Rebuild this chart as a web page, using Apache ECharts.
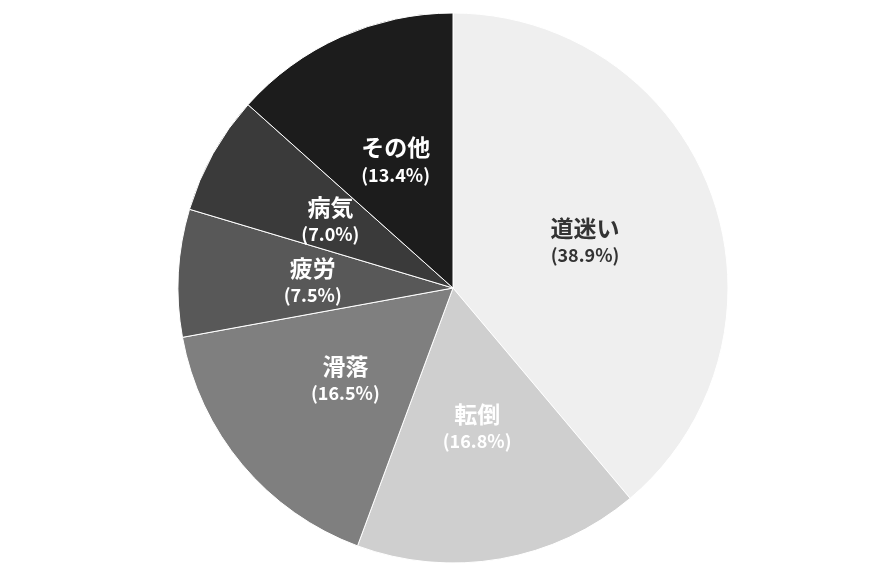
<!DOCTYPE html>
<html>
<head>
<meta charset="utf-8">
<script src="https://cdn.jsdelivr.net/npm/echarts@6/dist/echarts.min.js"></script>
<style>html,body{margin:0;padding:0;background:#fff}#chart{width:894px;height:564px}</style>
</head>
<body>
<div id="chart"></div>
<script>
// 遭難の原因
const categories = ['道迷い', '転倒', '滑落', '疲労', '病気', 'その他'];
const shares = [38.9, 16.8, 16.5, 7.5, 7.0, 13.4];
const sliceColors = ['#efefef', '#cfcfcf', '#7f7f7f', '#585858', '#3a3a3a', '#1c1c1c'];
const labelColors = ['#333333', '#ffffff', '#ffffff', '#ffffff', '#ffffff', '#ffffff'];

const chart = echarts.init(document.getElementById('chart'));

let data = [];
for (let i = 0; i < categories.length; i++) {
    data.push({
        name: categories[i],
        value: shares[i],
        itemStyle: { color: sliceColors[i] },
        label: { color: labelColors[i] }
    });
}

chart.setOption({
    animation: false,
    series: [
        {
            type: 'pie',
            center: [453, 288],
            radius: 275,
            startAngle: 90,
            clockwise: true,
            itemStyle: { borderColor: '#ffffff', borderWidth: 1 },
            label: {
                position: 'inside',
                fontFamily: '"Noto Sans CJK JP", "Noto Sans", sans-serif',
                fontWeight: 'bold',
                lineHeight: 28,
                formatter: (p) => '{n|' + p.name + '}\n{v|(' + p.value.toFixed(1) + '%)}',
                rich: {
                    n: { fontSize: 23, fontWeight: 'bold', lineHeight: 30 },
                    v: { fontSize: 18, fontWeight: 'bold', lineHeight: 24 }
                }
            },
            labelLine: { show: false },
            data: data
        }
    ]
});
</script>
</body>
</html>
